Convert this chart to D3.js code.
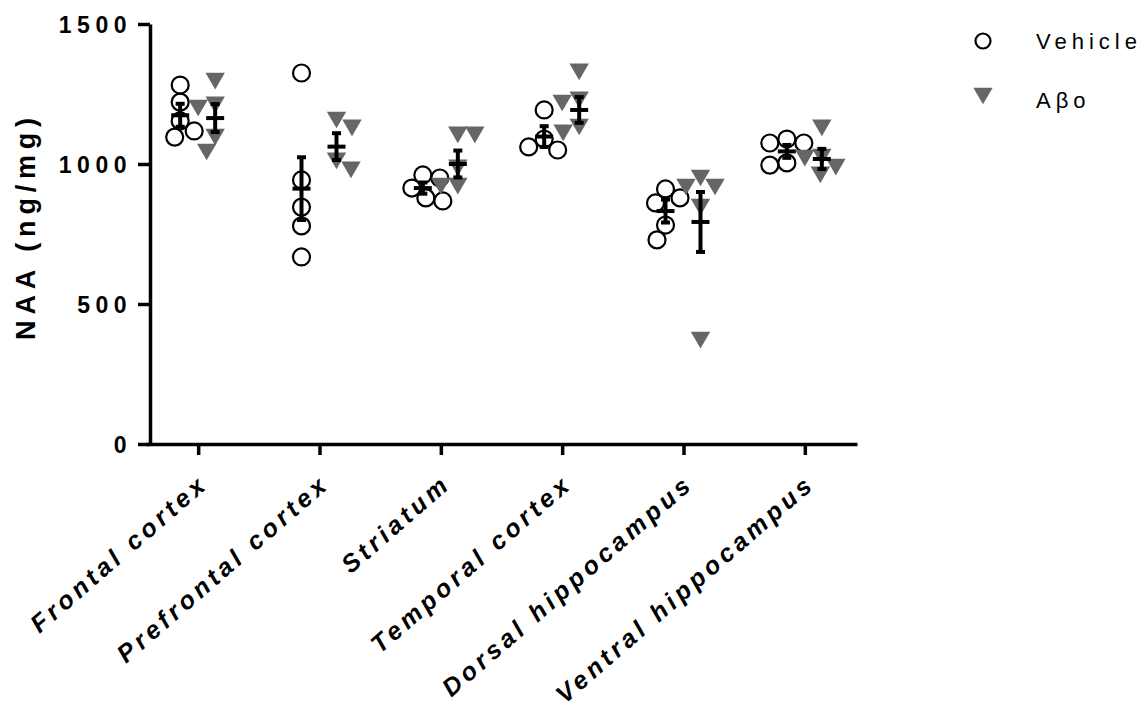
<!DOCTYPE html>
<html>
<head>
<meta charset="utf-8">
<script src="https://cdn.jsdelivr.net/npm/d3@7"></script>
<style>
  body { margin: 0; background: #fff; }
  svg { display: block; }
</style>
</head>
<body>
<svg id="chart" width="1143" height="709"></svg>
<script>
// Brain regions on the x axis
const categories = [
  "Frontal cortex", "Prefrontal cortex", "Striatum",
  "Temporal cortex", "Dorsal hippocampus", "Ventral hippocampus"
];

// Individual NAA values (ng/mg) per region
const vehicleValues = [
  [1282, 1221, 1154, 1118, 1096],
  [1325, 943, 846, 779, 668],
  [961, 950, 914, 879, 868],
  [1193, 1089, 1061, 1050],
  [911, 879, 861, 782, 729],
  [1089, 1075, 1075, 1004, 996]
];
const aboValues = [
  [1296, 1211, 1200, 1096, 1043],
  [1157, 1129, 1011, 979],
  [1104, 1104, 986, 921, 921],
  [1329, 1229, 1218, 1132, 1111],
  [950, 918, 918, 846, 371],
  [1129, 1025, 1021, 989, 961]
];

// Group mean ± SEM
const vehicleMean = [1174, 912, 914, 1098, 832, 1045];
const vehicleSem  = [41, 112, 20, 37, 41, 23];
const aboMean = [1164, 1062, 1000, 1193, 793, 1018];
const aboSem  = [50, 48, 48, 46, 107, 36];

const yTicks = [0, 500, 1000, 1500];
const seriesNames = ["Vehicle", "A\u03B2o"];
const yTitle = "NAA (ng/mg)";

const FONT = "'Liberation Sans', Arial, Helvetica, sans-serif";
const svg = d3.select("#chart");

const y = d3.scaleLinear().domain([0, 1500]).range([444, 24]);
const x = d3.scalePoint().domain(categories).range([146, 857]).padding(0.43);
const groupShift = [-18, 17];

// Horizontal spreading so symbols with similar values do not sit on top of each other
function dodge(values, minDist) {
  const order = d3.range(values.length)
    .sort((a, b) => d3.descending(values[a], values[b]));
  const placed = [];
  const offsets = new Array(values.length);
  order.forEach(i => {
    const py = y(values[i]);
    let best = null;
    for (let s = 0; s <= 60 && best === null; s += 0.5) {
      const cands = s === 0 ? [0] : (placed.length % 2 ? [s, -s] : [-s, s]);
      for (const c of cands) {
        if (placed.every(p => Math.hypot(p.x - c, p.y - py) >= minDist)) { best = c; break; }
      }
    }
    offsets[i] = best;
    placed.push({ x: best, y: py });
  });
  return offsets;
}

const trianglePath = "M-9.7,-8.3L9.7,-8.3L0,8.3Z";

// ---- axes ----
const yAxisG = svg.append("g")
  .attr("transform", "translate(150,0)")
  .call(d3.axisLeft(y).tickValues(yTicks).tickSize(12).tickSizeOuter(0).tickFormat(d3.format("d")));
yAxisG.select(".domain").attr("stroke", "#000").attr("stroke-width", 3.5);
yAxisG.selectAll(".tick line").attr("stroke", "#000").attr("stroke-width", 3.5);
yAxisG.selectAll(".tick text")
  .attr("x", -18)
  .attr("dy", "0.36em")
  .style("font-family", FONT)
  .style("font-size", "23px")
  .style("font-weight", "bold")
  .style("letter-spacing", "5.5px")
  .attr("fill", "#000");

const xAxisG = svg.append("g")
  .attr("transform", "translate(0,444)")
  .call(d3.axisBottom(x).tickSize(11).tickSizeOuter(0));
xAxisG.select(".domain").attr("stroke", "#000").attr("stroke-width", 3.5);
xAxisG.selectAll(".tick line").attr("stroke", "#000").attr("stroke-width", 3.5);
xAxisG.selectAll(".tick text")
  .attr("x", 0).attr("y", 0).attr("dy", 0)
  .attr("text-anchor", "end")
  .attr("transform", "translate(11,42) rotate(-41)")
  .style("font-family", FONT)
  .style("font-size", "25px")
  .style("font-weight", "bold")
  .style("font-style", "italic")
  .style("letter-spacing", "4.2px")
  .attr("fill", "#000");

// y-axis title
svg.append("text")
  .attr("transform", "translate(35,226) rotate(-90)")
  .attr("text-anchor", "middle")
  .style("font-family", FONT)
  .style("font-size", "27px")
  .style("font-weight", "bold")
  .style("letter-spacing", "5.8px")
  .text(yTitle);

// ---- points ----
const vehicleG = svg.append("g");
const aboG = svg.append("g");
categories.forEach((cat, i) => {
  const vOff = dodge(vehicleValues[i], 17);
  vehicleG.selectAll(null)
    .data(vehicleValues[i])
    .enter().append("circle")
    .attr("cx", (d, j) => x(cat) + groupShift[0] + vOff[j])
    .attr("cy", d => y(d))
    .attr("r", 8.5)
    .attr("fill", "none")
    .attr("stroke", "#000")
    .attr("stroke-width", 2.2);

  const aOff = dodge(aboValues[i], 17);
  aboG.selectAll(null)
    .data(aboValues[i])
    .enter().append("path")
    .attr("d", trianglePath)
    .attr("transform", (d, j) => `translate(${x(cat) + groupShift[1] + aOff[j]},${y(d)})`)
    .attr("fill", "#666");
});

// ---- mean ± SEM ----
const errG = svg.append("g").attr("stroke", "#000").attr("stroke-width", 4);
function drawErr(cx, mean, sem) {
  const top = y(mean + sem), bot = y(mean - sem), m = y(mean);
  errG.append("line").attr("x1", cx).attr("x2", cx).attr("y1", top).attr("y2", bot);
  errG.append("line").attr("x1", cx - 4.5).attr("x2", cx + 4.5).attr("y1", top).attr("y2", top);
  errG.append("line").attr("x1", cx - 4.5).attr("x2", cx + 4.5).attr("y1", bot).attr("y2", bot);
  errG.append("line").attr("x1", cx - 9).attr("x2", cx + 9).attr("y1", m).attr("y2", m);
}
categories.forEach((cat, i) => {
  drawErr(x(cat) + groupShift[0], vehicleMean[i], vehicleSem[i]);
  drawErr(x(cat) + groupShift[1], aboMean[i], aboSem[i]);
});

// ---- legend ----
const legend = svg.append("g");
legend.append("circle")
  .attr("cx", 983).attr("cy", 41).attr("r", 7.5)
  .attr("fill", "none").attr("stroke", "#000").attr("stroke-width", 2.2);
legend.append("path")
  .attr("d", trianglePath)
  .attr("transform", "translate(983,96)")
  .attr("fill", "#666");
legend.selectAll("text.leg")
  .data(seriesNames)
  .enter().append("text")
  .attr("class", "leg")
  .attr("x", 1036)
  .attr("y", (d, i) => i === 0 ? 49 : 108)
  .style("font-family", FONT)
  .style("font-size", "22px")
  .style("letter-spacing", "5px")
  .text(d => d);
</script>
</body>
</html>
